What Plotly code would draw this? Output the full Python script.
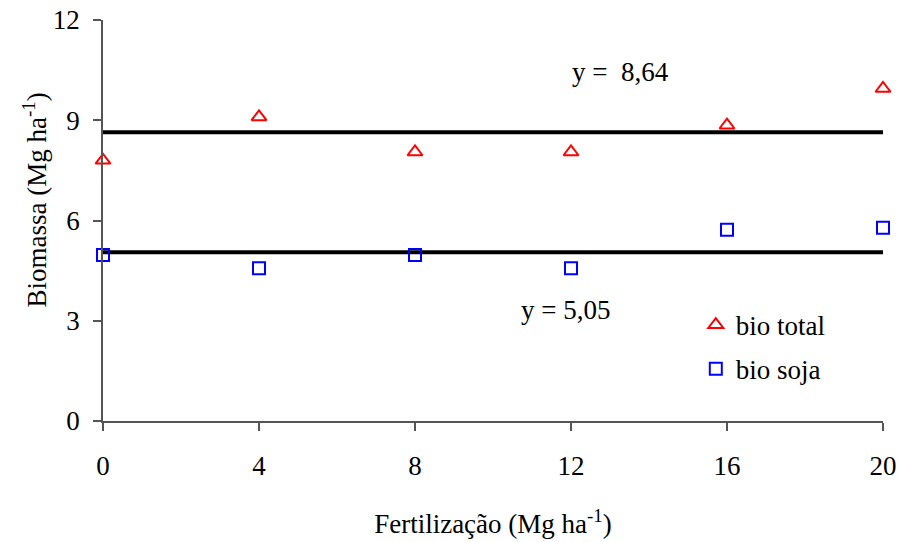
import plotly.graph_objects as go

# Fertilization rates (Mg ha-1)
fert = [0, 4, 8, 12, 16, 20]

# Biomass series (Mg ha-1)
bio_total = [7.8, 9.1, 8.05, 8.05, 8.85, 9.95]
bio_soja = [4.97, 4.57, 4.97, 4.57, 5.72, 5.78]

# Mean lines
mean_total = 8.64
mean_soja = 5.05
mean_labels = ["y =  8,64", "y = 5,05"]

x_ticks = [0, 4, 8, 12, 16, 20]
y_ticks = [0, 3, 6, 9, 12]

AXIS_COLOR = "#555555"
SERIF = "Liberation Serif"


def serif(size=27):
    return dict(family=SERIF, size=size, color="black")


fig = go.Figure()

# horizontal mean lines spanning the full fertilization range
for m in (mean_total, mean_soja):
    fig.add_trace(go.Scatter(
        x=[fert[0], fert[-1]], y=[m, m], mode="lines",
        line=dict(color="black", width=4), showlegend=False, hoverinfo="skip",
    ))

fig.add_trace(go.Scatter(
    x=fert, y=bio_total, mode="markers", name="bio total", legendgroup="a",
    marker=dict(symbol="triangle-up-open", size=13, color="#ff0000",
                line=dict(width=2, color="#ff0000")),
    cliponaxis=False,
))
fig.add_trace(go.Scatter(
    x=fert, y=bio_soja, mode="markers", name="bio soja", legendgroup="b",
    marker=dict(symbol="square-open", size=12, color="#0000ff",
                line=dict(width=2, color="#0000ff")),
    cliponaxis=False,
))

fig.add_annotation(x=13.26, y=10.45, text=mean_labels[0], showarrow=False,
                   xanchor="center", yanchor="middle", font=serif())
fig.add_annotation(x=11.85, y=3.32, text=mean_labels[1], showarrow=False,
                   xanchor="center", yanchor="middle", font=serif())

# y-axis title as a rotated paper annotation
fig.add_annotation(xref="paper", yref="paper", x=-0.087, y=0.55,
                   text="Biomassa (Mg ha<sup>-1</sup>)", textangle=-90,
                   showarrow=False, xanchor="center", yanchor="middle",
                   font=serif())

fig.update_layout(
    font=serif(),
    width=901, height=542,
    margin=dict(l=103, r=18, t=20, b=121, autoexpand=False),
    paper_bgcolor="white", plot_bgcolor="white",
    showlegend=True,
    legend=dict(x=0.76, y=0.30, xanchor="left", yanchor="top",
                bgcolor="rgba(0,0,0,0)", tracegroupgap=6, font=serif()),
    xaxis=dict(
        range=[0, 20], tickvals=x_ticks, ticks="outside", ticklen=8,
        tickcolor=AXIS_COLOR, tickwidth=1.5, showline=True, linecolor=AXIS_COLOR,
        linewidth=1.5, showgrid=False, zeroline=False, ticklabelstandoff=12,
        automargin=False, tickfont=serif(),
        title=dict(text="Fertilização (Mg ha<sup>-1</sup>)", standoff=34, font=serif()),
    ),
    yaxis=dict(
        range=[0, 12], tickvals=y_ticks, ticks="outside", ticklen=8,
        tickcolor=AXIS_COLOR, tickwidth=1.5, showline=True, linecolor=AXIS_COLOR,
        linewidth=1.5, showgrid=False, zeroline=False, ticklabelstandoff=8,
        automargin=False, tickfont=serif(),
    ),
)

fig.write_html("out.html")
